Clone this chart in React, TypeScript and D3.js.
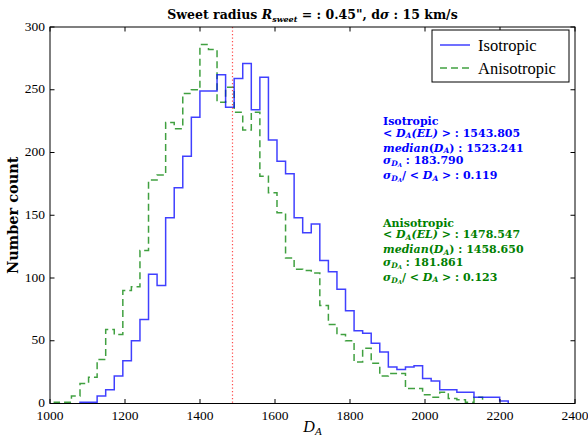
import React from "react";
import * as d3 from "d3";

// ---- data ----
const isoStart = 1080;
const anisoStart = 1011.48;
const binWidth = 22.84;
const isoCounts = [1, 1, 6, 11, 22, 34, 50, 67, 103, 94, 148, 172, 197, 228, 249, 249, 262, 236, 259, 271, 234, 260, 210, 193, 183, 148, 136, 143, 114, 105, 91, 74, 58, 56, 48, 41, 29, 27, 29, 30, 20, 18, 11, 11, 9, 9, 5, 5, 5, 2];
const anisoCounts = [1, 1, 6, 16, 21, 35, 59, 55, 90, 93, 122, 178, 182, 224, 219, 247, 250, 286, 282, 240, 252, 232, 218, 232, 181, 168, 152, 116, 107, 106, 104, 78, 63, 55, 50, 33, 44, 32, 22, 24, 24, 12, 12, 7, 5, 9, 4, 3, 1, 5];
const refValue = 1484;
const xTicks = [1000, 1200, 1400, 1600, 1800, 2000, 2200, 2400];
const yTicks = [0, 50, 100, 150, 200, 250, 300];
const isoStats = { mean: "1543.805", median: "1523.241", sigma: "183.790", ratio: "0.119" };
const anisoStats = { mean: "1478.547", median: "1458.650", sigma: "181.861", ratio: "0.123" };
const legendLabels = ["Isotropic", "Anisotropic"];

const W = 588, H = 436;
const L = 50, R = 575, T = 27, B = 403.5;
const FONT = "'Liberation Serif', 'Times New Roman', serif";
const FONT_B = "'DejaVu Serif', serif";
const BLUE = "#0000ff";
const GREEN = "#008000";

const x = d3.scaleLinear().domain([1000, 2400]).range([L, R]);
const y = d3.scaleLinear().domain([0, 300]).range([B, T]);

function stepPath(start: number, counts: number[]) {
  const pts: [number, number][] = [];
  pts.push([x(start), y(0)]);
  counts.forEach((c, i) => {
    pts.push([x(start + i * binWidth), y(c)]);
    pts.push([x(start + (i + 1) * binWidth), y(c)]);
  });
  pts.push([x(start + counts.length * binWidth), y(0)]);
  return d3.line()(pts) as string;
}

function StatBlock({ x0, y0, color, title, s }: { x0: number; y0: number; color: string; title: string; s: typeof isoStats }) {
  const sub = { fontSize: 7.5 } as const;
  return (
    <g fill={color} fontFamily={FONT_B} fontSize={11} fontWeight="bold">
      <text x={x0} y={y0}>{title}</text>
      <text x={x0} y={y0 + 11.7}>
        {"< "}<tspan fontStyle="italic">D</tspan><tspan {...sub} fontStyle="italic" dy={1.5}>A</tspan>
        <tspan dy={-1.5} fontStyle="italic">(EL)</tspan>{" > : " + s.mean}
      </text>
      <text x={x0} y={y0 + 26.7}>
        <tspan fontStyle="italic">median</tspan>(<tspan fontStyle="italic">D</tspan><tspan {...sub} fontStyle="italic" dy={1.5}>A</tspan>
        <tspan dy={-1.5}>{") : " + s.median}</tspan>
      </text>
      <text x={x0} y={y0 + 39}>
        <tspan fontStyle="italic">σ</tspan><tspan {...sub} fontStyle="italic" dy={2}>D</tspan><tspan fontSize={5.5} fontStyle="italic" dy={1}>A</tspan>
        <tspan dy={-3}>{" : " + s.sigma}</tspan>
      </text>
      <text x={x0} y={y0 + 54}>
        <tspan fontStyle="italic">σ</tspan><tspan {...sub} fontStyle="italic" dy={2}>D</tspan><tspan fontSize={5.5} fontStyle="italic" dy={1}>A</tspan>
        <tspan dy={-3}>{"/ < "}</tspan><tspan fontStyle="italic">D</tspan><tspan {...sub} fontStyle="italic" dy={1.5}>A</tspan>
        <tspan dy={-1.5}>{" > : " + s.ratio}</tspan>
      </text>
    </g>
  );
}

export default function App() {
  const tick = 4.5;
  const xr = Math.round(x(refValue)) + 0.5;
  return (
    <svg width={W} height={H} style={{ position: "absolute", left: 0, top: 0, background: "#fff" }}>
      <rect x={0} y={0} width={W} height={H} fill="#fff" />
      {/* title */}
      <text x={(L + R) / 2} y={19} textAnchor="middle" fontFamily={FONT_B} fontSize={12.5} fontWeight="bold">
        {"Sweet radius "}<tspan fontStyle="italic">R</tspan><tspan fontSize={8} fontStyle="italic" dy={3}>sweet</tspan>
        <tspan dy={-3}>{" = : 0.45\", d"}</tspan><tspan fontStyle="italic">σ</tspan>{" : 15 km/s"}
      </text>
      {/* histograms */}
      <path d={stepPath(anisoStart, anisoCounts)} fill="none" stroke={GREEN} strokeOpacity={0.75} strokeWidth={1.5} strokeDasharray="7,4" />
      <path d={stepPath(isoStart, isoCounts)} fill="none" stroke={BLUE} strokeOpacity={0.75} strokeWidth={1.5} />
      {/* reference line */}
      <line x1={xr} x2={xr} y1={T} y2={B} stroke="#ff2020" strokeOpacity={0.8} strokeWidth={1.2} strokeDasharray="1.2,2.3" />
      {/* frame */}
      <rect x={L} y={T} width={R - L} height={B - T} fill="none" stroke="#000" strokeWidth={1} />
      {xTicks.map((t) => (
        <g key={"x" + t}>
          <line x1={x(t)} x2={x(t)} y1={B} y2={B - tick} stroke="#000" />
          <line x1={x(t)} x2={x(t)} y1={T} y2={T + tick} stroke="#000" />
          <text x={x(t)} y={420} textAnchor="middle" fontFamily={FONT} fontSize={13.5}>{t}</text>
        </g>
      ))}
      {yTicks.map((t) => (
        <g key={"y" + t}>
          <line x1={L} x2={L + tick} y1={y(t)} y2={y(t)} stroke="#000" />
          <line x1={R} x2={R - tick} y1={y(t)} y2={y(t)} stroke="#000" />
          <text x={45} y={y(t) + 3.5} textAnchor="end" fontFamily={FONT} fontSize={13.5}>{t}</text>
        </g>
      ))}
      {/* axis labels */}
      <text x={(L + R) / 2} y={432} textAnchor="middle" fontFamily={FONT} fontSize={16}>
        <tspan fontStyle="italic">D</tspan><tspan fontSize={11} fontStyle="italic" dy={3}>A</tspan>
      </text>
      <text transform={`translate(18,${(T + B) / 2}) rotate(-90)`} textAnchor="middle" fontFamily={FONT_B} fontSize={14.5} fontWeight="bold">
        Number count
      </text>
      {/* legend */}
      <rect x={432} y={30} width={137} height={52} fill="#fff" stroke="#000" strokeWidth={1} />
      <line x1={440} x2={470} y1={45} y2={45} stroke={BLUE} strokeOpacity={0.75} strokeWidth={1.5} />
      <line x1={440} x2={470} y1={68} y2={68} stroke={GREEN} strokeOpacity={0.75} strokeWidth={1.5} strokeDasharray="7,4" />
      <text x={478} y={50.5} fontFamily={FONT} fontSize={16.5}>{legendLabels[0]}</text>
      <text x={478} y={73.5} fontFamily={FONT} fontSize={16.5}>{legendLabels[1]}</text>
      {/* stats */}
      <StatBlock x0={383} y0={125} color={BLUE} title="Isotropic" s={isoStats} />
      <StatBlock x0={383} y0={226.7} color={GREEN} title="Anisotropic" s={anisoStats} />
    </svg>
  );
}
